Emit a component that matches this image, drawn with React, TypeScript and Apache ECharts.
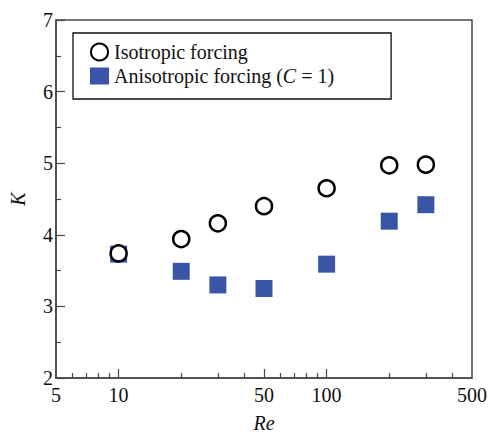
import React, { useEffect, useRef } from "react";
import * as echarts from "echarts";

const reValues = [10, 20, 30, 50, 100, 200, 300];
const isotropicK = [3.74, 3.94, 4.16, 4.4, 4.65, 4.97, 4.98];
const anisotropicK = [3.73, 3.49, 3.3, 3.25, 3.59, 4.19, 4.42];
const xLabelValues = [5, 10, 50, 100, 500];
const xMajorTicks = [10, 50, 100];
const xMinorTicks = [6, 7, 8, 9, 20, 30, 40, 60, 70, 80, 90, 200, 300, 400];
const isoName = "Isotropic forcing";
const anisoName = "Anisotropic forcing (C = 1)";

const FONT = "'Liberation Serif', 'Times New Roman', serif";
const AXIS_COLOR = "#474747";

export default function App() {
  const ref = useRef<HTMLDivElement>(null);
  useEffect(() => {
    if (!ref.current) return;
    const chart = echarts.init(ref.current, undefined, { renderer: "svg" });
    chart.setOption({
      animation: false,
      backgroundColor: "#ffffff",
      textStyle: { fontFamily: FONT },
      grid: {
        left: 56,
        right: 19,
        top: 20,
        bottom: 56,
        containLabel: false,
        outerBoundsMode: "none",
        show: true,
        borderColor: AXIS_COLOR,
        borderWidth: 1.5,
        backgroundColor: "transparent",
      },
      legend: {
        orient: "vertical",
        left: 73,
        top: 33,
        padding: [9, 57, 13, 17],
        itemGap: 4,
        itemWidth: 19,
        itemHeight: 17,
        borderColor: "#111",
        borderWidth: 1.3,
        backgroundColor: "#fff",
        data: [isoName, anisoName],
        textStyle: {
          fontFamily: FONT,
          fontSize: 20,
          color: "#111",
          rich: {
            a: { fontFamily: FONT, fontSize: 20, color: "#111" },
            i: { fontFamily: FONT, fontSize: 20, color: "#111", fontStyle: "italic" },
          },
        },
        formatter: (name: string) =>
          name === anisoName
            ? "{a|Anisotropic forcing (}{i|C}{a| = 1)}"
            : "{a|" + name + "}",
      },
      xAxis: [
        {
          type: "log",
          logBase: 10,
          min: 5,
          max: 500,
          name: "Re",
          nameLocation: "middle",
          nameGap: 35,
          nameTextStyle: { fontFamily: FONT, fontSize: 20, fontStyle: "italic", color: "#111" },
          axisLine: { show: true, lineStyle: { color: AXIS_COLOR, width: 1.5 } },
          axisTick: {
            show: true,
            inside: true,
            length: 9,
            customValues: xMajorTicks,
            lineStyle: { color: AXIS_COLOR, width: 1.2 },
          },
          minorTick: { show: false },
          splitLine: { show: false },
          axisLabel: {
            customValues: xLabelValues,
            fontFamily: FONT,
            fontSize: 20,
            color: "#111",
            margin: 7,
          },
        },
        {
          type: "log",
          logBase: 10,
          min: 5,
          max: 500,
          position: "bottom",
          offset: 0,
          axisLine: { show: false },
          axisTick: {
            show: true,
            inside: true,
            length: 5,
            customValues: xMinorTicks,
            lineStyle: { color: AXIS_COLOR, width: 1.2 },
          },
          splitLine: { show: false },
          axisLabel: { show: false },
        },
      ],
      yAxis: {
        type: "value",
        min: 2,
        max: 7,
        interval: 1,
        name: "K",
        nameLocation: "middle",
        nameGap: 28,
        nameTextStyle: { fontFamily: FONT, fontSize: 20, fontStyle: "italic", color: "#111" },
        axisLine: { show: true, lineStyle: { color: AXIS_COLOR, width: 1.5 } },
        axisTick: { show: true, inside: true, length: 9, lineStyle: { color: AXIS_COLOR, width: 1.2 } },
        minorTick: { show: true, splitNumber: 2, length: 5, lineStyle: { color: AXIS_COLOR, width: 1.2 } },
        splitLine: { show: false },
        axisLabel: { fontFamily: FONT, fontSize: 20, color: "#111", margin: 3 },
      },
      series: [
        {
          name: anisoName,
          type: "scatter",
          xAxisIndex: 0,
          symbol: "rect",
          symbolSize: 17,
          itemStyle: { color: "#3a55a6", opacity: 1 },
          emphasis: { disabled: true },
          data: reValues.map((x, i) => [x, anisotropicK[i]]),
          z: 2,
        },
        {
          name: isoName,
          type: "scatter",
          xAxisIndex: 0,
          symbol: "circle",
          symbolSize: 16,
          itemStyle: { color: "#ffffff", borderColor: "#000", borderWidth: 2.5, opacity: 1 },
          emphasis: { disabled: true },
          data: reValues.map((x, i) => [x, isotropicK[i]]),
          z: 3,
        },
      ],
    });
    return () => chart.dispose();
  }, []);
  return (
    <div
      ref={ref}
      style={{ position: "absolute", left: 0, top: 0, width: 491, height: 434 }}
    />
  );
}
